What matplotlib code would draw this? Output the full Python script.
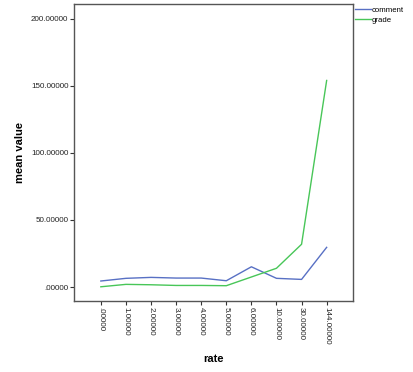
import matplotlib.pyplot as plt

plt.rcParams["font.family"] = ["Liberation Sans", "DejaVu Sans"]

rates = [".00000", "1.00000", "2.00000", "3.00000", "4.00000", "5.00000",
         "6.00000", "10.00000", "30.00000", "144.00000"]
comment = [4.5, 6.5, 7.2, 6.7, 6.7, 4.7, 15.1, 6.5, 5.7, 29.6]
grade = [0.2, 2.0, 1.7, 1.2, 1.2, 1.0, 7.5, 14.0, 31.9, 154.0]
yticks = [0, 50, 100, 150, 200]
ytick_labels = [".00000", "50.00000", "100.00000", "150.00000", "200.00000"]

fig = plt.figure(figsize=(4.14, 3.72), dpi=100)
ax = fig.add_axes([74 / 414, 71 / 372, 279 / 414, 297 / 372])

x = list(range(len(rates)))
ax.plot(x, comment, color="#5870c4", lw=1.0, label="comment")
ax.plot(x, grade, color="#48c658", lw=1.0, label="grade")

ax.set_xlim(-1.07, 10.05)
ax.set_ylim(-10.4, 211)
ax.set_xticks(x)
ax.set_xticklabels(rates, rotation=270, fontsize=5.8, color="#222222")
ax.set_yticks(yticks)
ax.set_yticklabels(ytick_labels, fontsize=5.8, color="#222222")
ax.tick_params(length=3, width=0.8, color="#333333", pad=1)

for s in ax.spines.values():
    s.set_color("#555555")
    s.set_linewidth(1.0)

ax.set_ylabel("mean value", fontsize=8, fontweight="bold", labelpad=4)
ax.set_xlabel("rate", fontsize=8, fontweight="bold", labelpad=7)

ax.legend(loc="upper left", bbox_to_anchor=(1.0, 1.0), frameon=False,
          fontsize=5.6, handlelength=2.0, handletextpad=0.15,
          labelspacing=0.3, borderaxespad=0.0, borderpad=0.3)

fig.savefig("out.png", dpi=100)
